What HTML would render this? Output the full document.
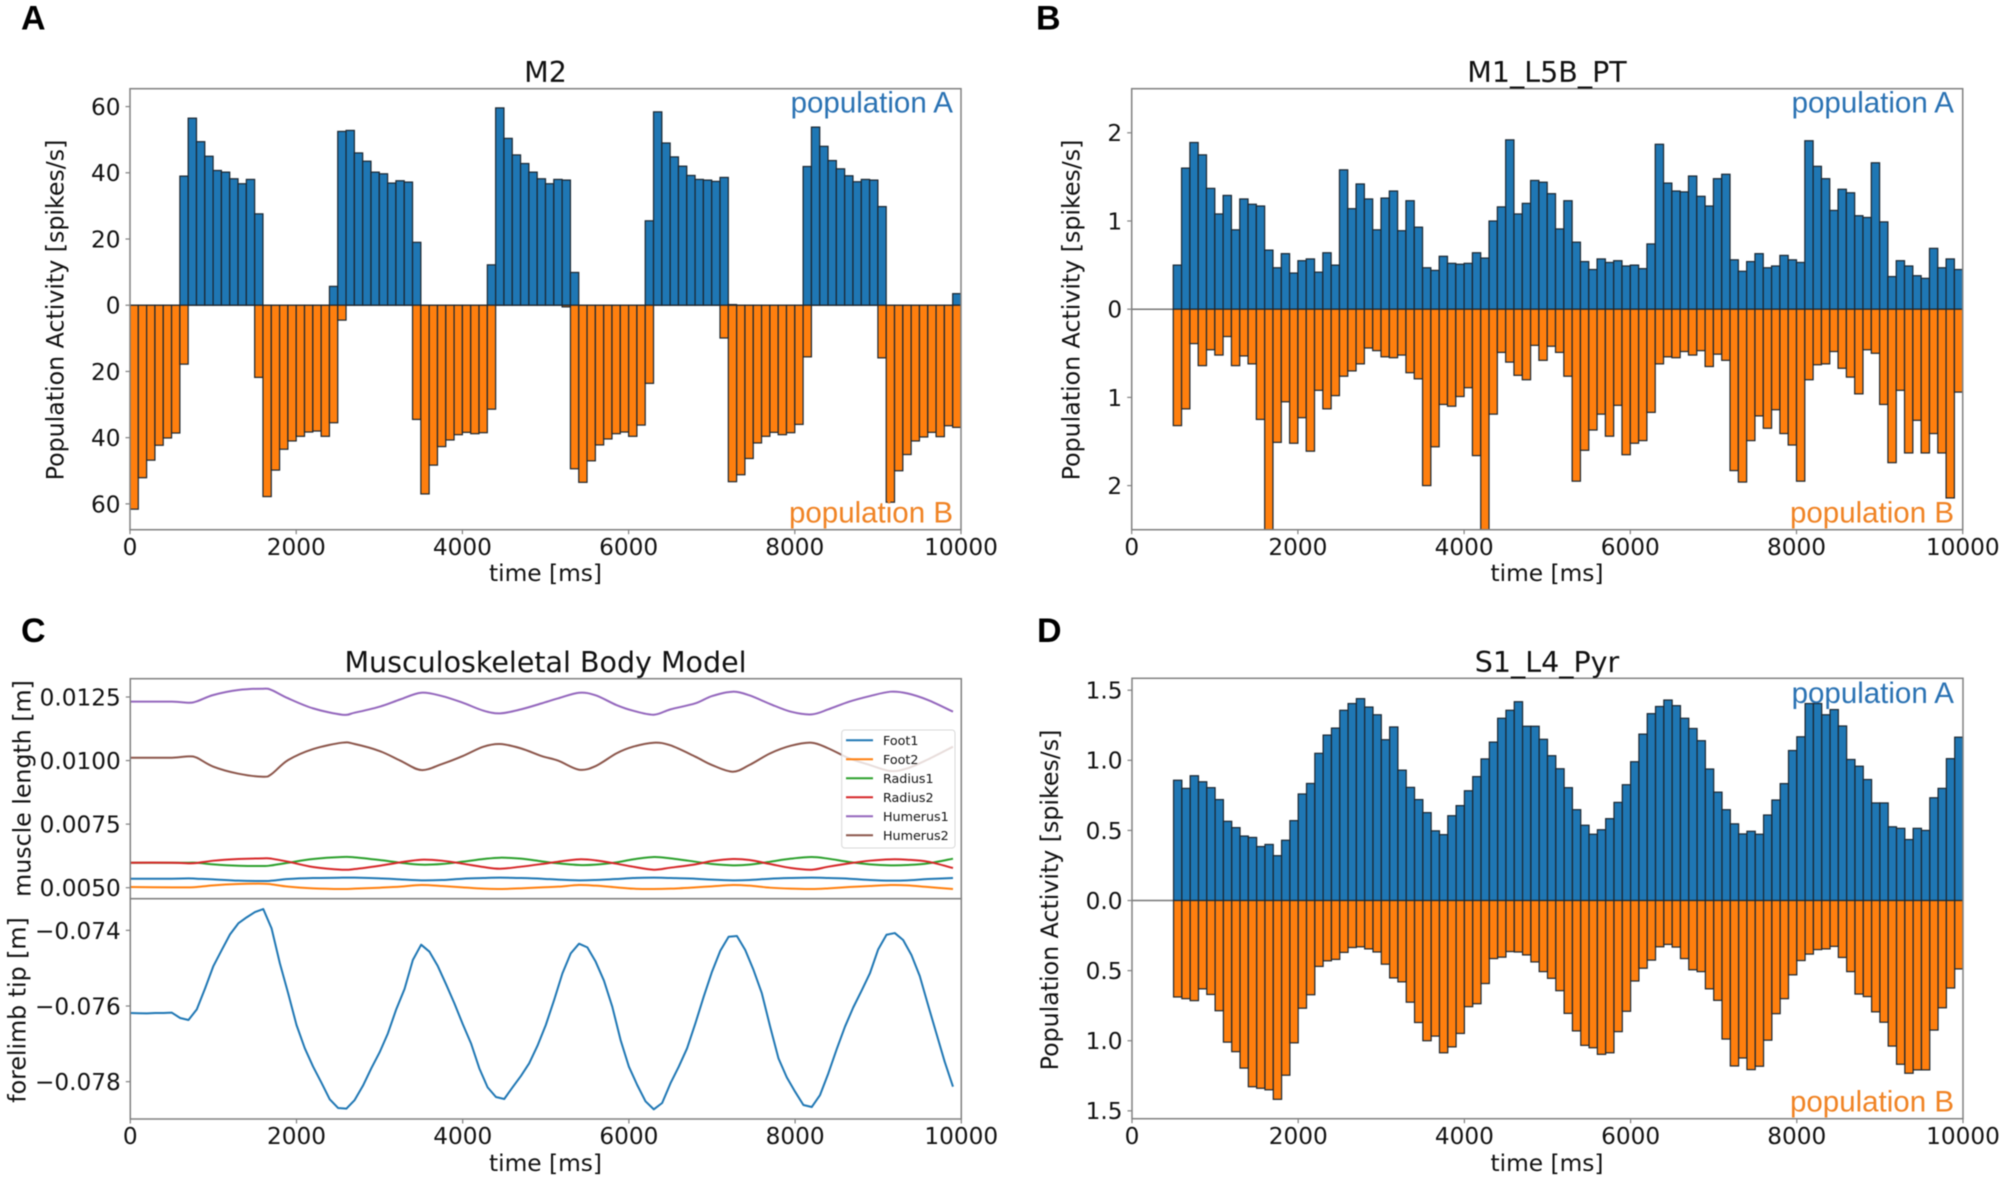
<!DOCTYPE html>
<html lang="en">
<head>
<meta charset="utf-8">
<title>Population activity and musculoskeletal body model</title>
<style>
  html, body { margin: 0; padding: 0; background: #fff; }
  body { width: 2008px; height: 1183px; overflow: hidden; }
  svg { display: block; filter: blur(0.4px); }
  text { font-family: "DejaVu Sans", "Liberation Sans", sans-serif; fill: #111; }
  .tick { font-size: 23.2px; }
  .label { font-size: 23.7px; }
  .xlabel { font-size: 23.3px; }
  .title { font-size: 28.5px; }
  .letter { font-family: "Liberation Sans", sans-serif; font-weight: bold; font-size: 34px; fill: #000; }
  .pop { font-family: "Liberation Sans", sans-serif; font-size: 29.5px; text-anchor: end; }
  .legend-text { font-size: 12.7px; }
  .frame { fill: none; stroke: #808080; stroke-width: 1.5; }
</style>
</head>
<body>
<svg id="figure" xmlns="http://www.w3.org/2000/svg" width="2008" height="1183" viewBox="0 0 2008 1183">
  <defs>
    <clipPath id="clip-a"><rect x="130" y="88.7" width="831" height="441"/></clipPath>
    <clipPath id="clip-b"><rect x="1131.7" y="88.7" width="831" height="441"/></clipPath>
    <clipPath id="clip-d"><rect x="1132" y="678.3" width="831" height="440.4"/></clipPath>
  </defs>

  <text class="letter" x="21" y="29.5">A</text>
  <text class="letter" x="1036" y="29.5">B</text>
  <text class="letter" x="21" y="642">C</text>
  <text class="letter" x="1037" y="642">D</text>

  <!-- Panel A -->
  <g>
    <g id="marks-a" clip-path="url(#clip-a)"></g>
    <rect class="frame" x="130" y="88.7" width="831" height="441"/>
    <g id="ticks-a"></g>
    <text class="title" x="545.5" y="82" text-anchor="middle">M2</text>
    <text class="xlabel" x="545.5" y="581" text-anchor="middle">time [ms]</text>
    <text class="label" transform="translate(63.5 310) rotate(-90)" text-anchor="middle">Population Activity [spikes/s]</text>
    <text class="pop" x="953" y="112.5" style="fill:#2a72b3">population A</text>
    <text class="pop" x="953" y="522.5" style="fill:#f08324">population B</text>
  </g>

  <!-- Panel B -->
  <g>
    <line x1="1131.7" x2="1173.3" y1="309.2" y2="309.2" stroke="#777" stroke-width="1.5"/>
    <g id="marks-b" clip-path="url(#clip-b)"></g>
    <rect class="frame" x="1131.7" y="88.7" width="831" height="441"/>
    <g id="ticks-b"></g>
    <text class="title" x="1547" y="82" text-anchor="middle">M1_L5B_PT</text>
    <text class="xlabel" x="1547" y="581" text-anchor="middle">time [ms]</text>
    <text class="label" transform="translate(1079.5 310) rotate(-90)" text-anchor="middle">Population Activity [spikes/s]</text>
    <text class="pop" x="1954" y="112.5" style="fill:#2a72b3">population A</text>
    <text class="pop" x="1954" y="522.5" style="fill:#f08324">population B</text>
  </g>

  <!-- Panel C -->
  <g>
    <g id="marks-c-top"></g>
    <g id="marks-c-bottom"></g>
    <rect class="frame" x="130.3" y="678.7" width="831" height="220"/>
    <rect class="frame" x="130.3" y="898.7" width="831" height="220.3"/>
    <g id="ticks-c"></g>
    <text class="title" x="545.5" y="672" text-anchor="middle">Musculoskeletal Body Model</text>
    <text class="xlabel" x="545.5" y="1171" text-anchor="middle">time [ms]</text>
    <text class="label" transform="translate(30.5 788.5) rotate(-90)" text-anchor="middle">muscle length [m]</text>
    <text class="label" transform="translate(25.5 1010) rotate(-90)" text-anchor="middle">forelimb tip [m]</text>
    <g>
      <rect x="841.7" y="730" width="113.3" height="118" rx="3" fill="#fff" fill-opacity="0.8" stroke="#d8d8d8" stroke-width="1"/>
      <line x1="846" x2="873" y1="740.3" y2="740.3" stroke="#1f77b4" stroke-width="2"/>
      <text class="legend-text" x="883" y="744.8">Foot1</text>
      <line x1="846" x2="873" y1="759.3" y2="759.3" stroke="#ff7f0e" stroke-width="2"/>
      <text class="legend-text" x="883" y="763.8">Foot2</text>
      <line x1="846" x2="873" y1="778.3" y2="778.3" stroke="#2ca02c" stroke-width="2"/>
      <text class="legend-text" x="883" y="782.8">Radius1</text>
      <line x1="846" x2="873" y1="797.3" y2="797.3" stroke="#d62728" stroke-width="2"/>
      <text class="legend-text" x="883" y="801.8">Radius2</text>
      <line x1="846" x2="873" y1="816.3" y2="816.3" stroke="#9467bd" stroke-width="2"/>
      <text class="legend-text" x="883" y="820.8">Humerus1</text>
      <line x1="846" x2="873" y1="835.3" y2="835.3" stroke="#8c564b" stroke-width="2"/>
      <text class="legend-text" x="883" y="839.8">Humerus2</text>
    </g>
  </g>

  <!-- Panel D -->
  <g>
    <line x1="1132" x2="1173.5" y1="900.5" y2="900.5" stroke="#777" stroke-width="1.5"/>
    <g id="marks-d" clip-path="url(#clip-d)"></g>
    <rect class="frame" x="1132" y="678.3" width="831" height="440.4"/>
    <g id="ticks-d"></g>
    <text class="title" x="1547" y="672" text-anchor="middle">S1_L4_Pyr</text>
    <text class="xlabel" x="1547" y="1171" text-anchor="middle">time [ms]</text>
    <text class="label" transform="translate(1058 900) rotate(-90)" text-anchor="middle">Population Activity [spikes/s]</text>
    <text class="pop" x="1954" y="703" style="fill:#2a72b3">population A</text>
    <text class="pop" x="1954" y="1111.5" style="fill:#f08324">population B</text>
  </g>
</svg>

<script>
/* ---------- shared axis data ---------- */
const binWidthMs = [100];
const xTickValues = [0, 2000, 4000, 6000, 8000, 10000];

/* ---------- Panel A: M2 (bins start at 0 ms) ---------- */
const m2StartMs = [0];
const m2PopulationA = [
  0,0,0,0,0,0,39,56.5,49.4,45,
  40.7,40.2,38.2,36.7,38,27.6,0,0,0,0,
  0,0,0,0,5.7,52.5,52.8,46,43.5,40.2,
  39.7,36.9,37.6,37.2,19,0,0,0,0,0,
  0,0,0,12.2,59.6,50.4,45.4,42.8,40.2,38.2,
  36.7,38,37.8,9.9,0,0,0,0,0,0,
  0,0,25.5,58.4,49,44.8,42,39.2,38,37.8,
  37.4,38.6,0.2,0,0,0,0,0,0,0,
  0,41.9,53.8,48,43.7,41.2,39.1,37.3,38,37.8,
  29.8,0,0,0,0,0,0,0,0,3.5
];
const m2PopulationB = [
  61.6,52.1,46.8,42.3,40.1,38.6,17.8,0,0,0,
  0,0,0,0,0,21.8,57.8,49.8,43.5,41,
  39.6,38.3,38,39.6,35.5,4.5,0,0,0,0,
  0,0,0,0,34.5,57,48.3,42.7,40.7,39.1,
  38.4,38.8,38.5,31.4,0,0,0,0,0,0,
  0,0,0.5,49.4,53.5,47,42.2,40.4,38.8,38.3,
  39.6,36.2,23.6,0,0,0,0,0,0,0,
  0,9.9,53.3,51.2,46.3,41.6,39.6,38.4,39.1,38.5,
  36,15.6,0,0,0,0,0,0,0,0,
  15.9,59.5,50,45.1,41,39.8,38.4,39.7,36.4,36.9
];
const m2YTicks = [60, 40, 20, 0, -20, -40, -60];

/* ---------- Panel B: M1_L5B_PT (bins start at 500 ms) ---------- */
const m1StartMs = [500];
const m1PopulationA = [
  0.5,1.6,1.89,1.75,1.37,
  1.08,1.29,0.9,1.25,1.19,1.17,0.67,0.47,0.63,0.41,
  0.55,0.57,0.42,0.64,0.5,1.58,1.14,1.42,1.25,0.9,
  1.26,1.34,0.89,1.23,0.93,0.47,0.44,0.6,0.52,0.51,
  0.52,0.64,0.58,1,1.16,1.92,1.08,1.2,1.46,1.44,
  1.31,0.91,1.23,0.76,0.54,0.45,0.57,0.53,0.55,0.49,
  0.5,0.46,0.74,1.87,1.43,1.34,1.33,1.51,1.28,1.17,
  1.48,1.53,0.56,0.43,0.54,0.63,0.47,0.49,0.61,0.56,
  0.53,1.91,1.62,1.48,1.12,1.36,1.32,1.06,1.04,1.66,
  0.99,0.37,0.55,0.49,0.38,0.35,0.69,0.47,0.57,0.45
];
const m1PopulationB = [
  1.32,1.13,0.39,0.64,0.46,
  0.52,0.31,0.64,0.53,0.62,1.25,2.56,1.51,1.05,1.52,
  1.23,1.61,0.92,1.13,0.98,0.76,0.7,0.62,0.44,0.47,
  0.54,0.55,0.52,0.72,0.79,2,1.56,1.08,1.1,0.99,
  0.89,1.66,2.6,1.19,0.49,0.6,0.75,0.8,0.41,0.58,
  0.42,0.49,0.76,1.95,1.6,1.37,1.19,1.44,1.09,1.65,
  1.52,1.49,1.17,0.62,0.54,0.55,0.48,0.52,0.47,0.65,
  0.51,0.58,1.83,1.96,1.49,1.21,1.35,1.14,1.41,1.54,
  1.95,0.8,0.63,0.62,0.48,0.67,0.77,0.96,0.46,0.5,
  1.08,1.74,0.92,1.63,1.26,1.63,1.41,1.63,2.14,0.94
];
const m1YTicks = [2, 1, 0, -1, -2];

/* ---------- Panel D: S1_L4_Pyr (bins start at 500 ms) ---------- */
const s1StartMs = [500];
const s1PopulationA = [
  0.858,0.8,0.89,0.847,0.805,
  0.72,0.565,0.52,0.46,0.45,0.385,0.4,0.32,0.43,0.57,
  0.76,0.835,1.05,1.18,1.23,1.357,1.405,1.44,1.38,1.325,
  1.147,1.238,0.93,0.807,0.72,0.627,0.497,0.47,0.605,0.677,
  0.783,0.884,1.01,1.13,1.3,1.357,1.418,1.243,1.243,1.15,
  1.033,0.94,0.805,0.648,0.537,0.473,0.505,0.584,0.7,0.826,
  0.99,1.187,1.333,1.384,1.43,1.39,1.3,1.227,1.14,0.938,
  0.773,0.648,0.547,0.475,0.494,0.473,0.61,0.717,0.834,1.07,
  1.168,1.405,1.405,1.325,1.362,1.245,1.006,0.958,0.863,0.696,
  0.696,0.526,0.515,0.435,0.515,0.5,0.733,0.8,1.012,1.165
];
const s1PopulationB = [
  0.688,0.7,0.714,0.63,0.67,
  0.786,1.01,1.078,1.195,1.328,1.339,1.35,1.418,1.246,1.015,
  0.768,0.672,0.47,0.43,0.42,0.37,0.335,0.33,0.345,0.367,
  0.454,0.552,0.58,0.725,0.87,1,0.967,1.086,1.044,0.948,
  0.757,0.736,0.592,0.414,0.404,0.364,0.367,0.388,0.438,0.507,
  0.555,0.643,0.805,0.93,1.033,1.05,1.097,1.086,0.935,0.79,
  0.574,0.483,0.425,0.33,0.313,0.332,0.414,0.494,0.507,0.63,
  0.712,0.988,1.18,1.123,1.206,1.182,0.996,0.807,0.7,0.53,
  0.428,0.382,0.35,0.345,0.327,0.406,0.507,0.667,0.685,0.794,
  0.868,1.038,1.168,1.232,1.208,1.208,0.924,0.765,0.624,0.488
];
const s1YTicks = [1.5, 1, 0.5, 0, -0.5, -1, -1.5];

/* ---------- Panel C: muscle lengths and forelimb tip ---------- */
const muscleTimes = [
  0,500,700,800,1000,1300,1600,1700,1900,2200,
  2550,2700,3000,3250,3500,3750,4000,4250,4450,4700,
  4950,5150,5400,5600,5850,6050,6300,6500,6800,7000,
  7250,7450,7700,7950,8200,8400,8650,8900,9150,9350,
  9600,9900
];
const foot1 = [
  .005354,.005354,.005367,.005354,.005328,.005276,.005263,.005276,.005341,.00538,
  .005394,.005394,.005367,.005328,.005289,.005302,.005354,.00538,.005394,.00538,
  .005354,.005315,.005289,.005302,.005341,.00538,.005394,.00538,.005354,.005315,
  .005289,.005302,.005354,.00538,.005394,.00538,.005354,.005302,.005276,.005289,
  .005341,.00538
];
const foot2 = [
  .005026,.005013,.005013,.005026,.005092,.005144,.005157,.005131,.00504,.004974,
  .004948,.004961,.005,.00504,.005105,.005066,.005013,.004961,.004948,.004974,
  .005013,.00504,.005105,.005079,.005013,.004961,.004948,.004961,.005013,.005053,
  .005105,.005079,.005,.004961,.004948,.004974,.005026,.005066,.005105,.005092,
  .005026,.004948
];
const radius1 = [
  .005983,.005983,.005983,.005983,.005918,.005865,.005852,.005879,.005983,.006128,
  .006206,.006193,.006088,.005983,.005905,.005931,.006023,.006128,.00618,.006141,
  .006036,.005957,.005892,.005905,.005996,.006115,.006206,.006154,.006023,.005931,
  .005879,.005905,.006023,.006141,.006206,.006141,.00601,.005918,.005879,.005892,
  .005957,.006141
];
const radius2 = [
  .005983,.005983,.005957,.00597,.006062,.006128,.006154,.006141,.006023,.005813,
  .005708,.005734,.005865,.005996,.006101,.006062,.005944,.005813,.005747,.005826,
  .005931,.006023,.006115,.006075,.005944,.005826,.005708,.005787,.005918,.006049,
  .006128,.006088,.005931,.005774,.005708,.005826,.005957,.006062,.006115,.006101,
  .006023,.005774
];
const humerus1 = [
  .012316,.012316,.012276,.012329,.012578,.012774,.012827,.012774,.012447,.012053,
  .011804,.011883,.012119,.012407,.012669,.012538,.012276,.011962,.011857,.012014,
  .01225,.012447,.012669,.012565,.012184,.011962,.011804,.012014,.01225,.012538,
  .012709,.012565,.012224,.011922,.011817,.012014,.012316,.012538,.012709,.012643,
  .012381,.011922
];
const humerus2 = [
  .010113,.010113,.010165,.010113,.009759,.009484,.009366,.009471,.010021,.010454,
  .010703,.010651,.010375,.009995,.009628,.009864,.010179,.010546,.010651,.01048,
  .010179,.009995,.009641,.009785,.010284,.010546,.010703,.010598,.010153,.009825,
  .009562,.009825,.010284,.010585,.010703,.01048,.010087,.009825,.009589,.009694,
  .010048,.010546
];
const muscleYTicks = [0.0125, 0.01, 0.0075, 0.005];
const muscleYTickLabels = ["0.0125", "0.0100", "0.0075", "0.0050"];

const forelimbStepMs = [100];
const forelimbTip = [
  -.076185,-.07619,-.076194,-.076185,-.076185,-.076176,-.076317,-.07637,-.076088,-.075533,
  -.074943,-.07452,-.074106,-.073815,-.073656,-.073516,-.073436,-.073947,-.074872,-.075665,
  -.076502,-.077119,-.077604,-.078027,-.078467,-.078696,-.078714,-.078485,-.078106,-.077648,
  -.077225,-.076723,-.076088,-.075551,-.074784,-.074379,-.074564,-.074943,-.075427,-.07593,
  -.076476,-.076987,-.077648,-.07815,-.078406,-.078458,-.07815,-.077851,-.077516,-.077049,
  -.076502,-.075842,-.075137,-.074608,-.074353,-.07445,-.074828,-.075331,-.076018,-.076899,
  -.077604,-.078088,-.07852,-.078732,-.078564,-.078044,-.077604,-.077119,-.076458,-.075753,
  -.075093,-.074538,-.074168,-.07415,-.07452,-.075049,-.075665,-.076547,-.077384,-.077886,
  -.078265,-.078617,-.07867,-.078353,-.07778,-.077146,-.076547,-.076036,-.075595,-.075137,
  -.074502,-.074115,-.074071,-.074256,-.074652,-.075207,-.075974,-.076723,-.077472,-.078132
];
const forelimbYTicks = [-0.074, -0.076, -0.078];
const forelimbYTickLabels = ["\u22120.074", "\u22120.076", "\u22120.078"];

/* ---------- drawing helpers ---------- */
const SVG_NS = "http://www.w3.org/2000/svg";

function makeScale(domain0, domain1, px0, px1) {
  return function (v) {
    return px0 + (v - domain0) / (domain1 - domain0) * (px1 - px0);
  };
}

function drawBars(group, values, start, width, x, y, sign, fill, name) {
  values.forEach(function (v, i) {
    const x0 = x(start + i * width);
    const x1 = x(start + (i + 1) * width);
    const y0 = y(0);
    const y1 = y(sign * v);
    const rect = document.createElementNS(SVG_NS, "rect");
    rect.setAttribute("x", x0);
    rect.setAttribute("width", x1 - x0);
    rect.setAttribute("y", Math.min(y0, y1));
    rect.setAttribute("height", Math.max(Math.abs(y1 - y0), 0.01));
    rect.setAttribute("fill", fill);
    rect.setAttribute("stroke", "#1b2630");
    rect.setAttribute("stroke-width", "1.2");
    
    
    group.appendChild(rect);
  });
}

function drawLine(group, xs, values, x, y, color, name) {
  const path = document.createElementNS(SVG_NS, "polyline");
  path.setAttribute("points", values.map(function (v, i) {
    return x(xs[i]).toFixed(2) + "," + y(v).toFixed(2);
  }).join(" "));
  path.setAttribute("fill", "none");
  path.setAttribute("stroke", color);
  path.setAttribute("stroke-width", "2");
  path.setAttribute("stroke-linejoin", "round");
  
  
  group.appendChild(path);
}

/* Smooth trace through every sampled muscle-length value (Catmull-Rom). */
function drawSmoothLine(group, xs, values, x, y, color, name) {
  const pts = values.map(function (v, i) { return [x(xs[i]), y(v)]; });
  let d = "M" + pts[0][0].toFixed(2) + " " + pts[0][1].toFixed(2);
  for (let i = 0; i < pts.length - 1; i++) {
    const p0 = pts[Math.max(i - 1, 0)];
    const p1 = pts[i];
    const p2 = pts[i + 1];
    const p3 = pts[Math.min(i + 2, pts.length - 1)];
    const c1x = p1[0] + (p2[0] - p0[0]) / 6;
    const c1y = p1[1] + (p2[1] - p0[1]) / 6;
    const c2x = p2[0] - (p3[0] - p1[0]) / 6;
    const c2y = p2[1] - (p3[1] - p1[1]) / 6;
    d += "C" + c1x.toFixed(2) + " " + c1y.toFixed(2) + " " + c2x.toFixed(2) + " " + c2y.toFixed(2) + " " + p2[0].toFixed(2) + " " + p2[1].toFixed(2);
  }
  const path = document.createElementNS(SVG_NS, "path");
  path.setAttribute("d", d);
  path.setAttribute("fill", "none");
  path.setAttribute("stroke", color);
  path.setAttribute("stroke-width", "2");
  
  
  group.appendChild(path);
}

function drawXTicks(group, x, bottom, baseline) {
  xTickValues.forEach(function (v) {
    const mark = document.createElementNS(SVG_NS, "line");
    mark.setAttribute("x1", x(v));
    mark.setAttribute("x2", x(v));
    mark.setAttribute("y1", bottom);
    mark.setAttribute("y2", bottom + 4.5);
    mark.setAttribute("stroke", "#808080");
    mark.setAttribute("stroke-width", "1.2");
    
    
    group.appendChild(mark);
    const label = document.createElementNS(SVG_NS, "text");
    label.setAttribute("class", "tick");
    label.setAttribute("x", x(v));
    label.setAttribute("y", baseline);
    label.setAttribute("text-anchor", "middle");
    
    
    label.textContent = String(v);
    group.appendChild(label);
  });
}

function drawYTicks(group, ticks, labels, y, left) {
  ticks.forEach(function (v, i) {
    const mark = document.createElementNS(SVG_NS, "line");
    mark.setAttribute("x1", left - 4.5);
    mark.setAttribute("x2", left);
    mark.setAttribute("y1", y(v));
    mark.setAttribute("y2", y(v));
    mark.setAttribute("stroke", "#808080");
    mark.setAttribute("stroke-width", "1.2");
    
    
    group.appendChild(mark);
    const label = document.createElementNS(SVG_NS, "text");
    label.setAttribute("class", "tick");
    label.setAttribute("x", left - 9.5);
    label.setAttribute("y", y(v) + 8.4);
    label.setAttribute("text-anchor", "end");
    
    
    label.textContent = labels[i];
    group.appendChild(label);
  });
}

/* ---------- panel A ---------- */
(function () {
  const x = makeScale(0, 10000, 130, 961);
  const y = makeScale(65.4, -67.8, 88.7, 529.7);
  const g = document.getElementById("marks-a");
  const t = document.getElementById("ticks-a");
  drawBars(g, m2PopulationA, m2StartMs[0], binWidthMs[0], x, y, 1, "#1f77b4", "population-a-bar");
  drawBars(g, m2PopulationB, m2StartMs[0], binWidthMs[0], x, y, -1, "#ff7f0e", "population-b-bar");
  drawXTicks(t, x, 529.7, 555);
  drawYTicks(t, m2YTicks, m2YTicks.map(function (v) { return String(Math.abs(v)); }), y, 130);
})();

/* ---------- panel B ---------- */
(function () {
  const x = makeScale(0, 10000, 1131.7, 1962.7);
  const y = makeScale(2.5, -2.5, 88.7, 529.7);
  const g = document.getElementById("marks-b");
  const t = document.getElementById("ticks-b");
  drawBars(g, m1PopulationA, m1StartMs[0], binWidthMs[0], x, y, 1, "#1f77b4", "population-a-bar");
  drawBars(g, m1PopulationB, m1StartMs[0], binWidthMs[0], x, y, -1, "#ff7f0e", "population-b-bar");
  drawXTicks(t, x, 529.7, 555);
  drawYTicks(t, m1YTicks, m1YTicks.map(function (v) { return String(Math.abs(v)); }), y, 1131.7);
})();

/* ---------- panel C ---------- */
(function () {
  const x = makeScale(0, 10000, 130.3, 961.3);
  const yTop = makeScale(0.01322, 0.004567, 678.7, 898.7);
  const yBottom = makeScale(-0.073163, -0.078987, 898.7, 1119);
  const top = document.getElementById("marks-c-top");
  const bottom = document.getElementById("marks-c-bottom");
  const t = document.getElementById("ticks-c");
  drawSmoothLine(top, muscleTimes, foot1, x, yTop, "#1f77b4", "foot1-line");
  drawSmoothLine(top, muscleTimes, foot2, x, yTop, "#ff7f0e", "foot2-line");
  drawSmoothLine(top, muscleTimes, radius1, x, yTop, "#2ca02c", "radius1-line");
  drawSmoothLine(top, muscleTimes, radius2, x, yTop, "#d62728", "radius2-line");
  drawSmoothLine(top, muscleTimes, humerus1, x, yTop, "#9467bd", "humerus1-line");
  drawSmoothLine(top, muscleTimes, humerus2, x, yTop, "#8c564b", "humerus2-line");
  const forelimbTimes = forelimbTip.map(function (v, i) { return i * forelimbStepMs[0]; });
  drawLine(bottom, forelimbTimes, forelimbTip, x, yBottom, "#1f77b4", "forelimb-tip-trace");
  drawXTicks(t, x, 1119, 1144);
  drawYTicks(t, muscleYTicks, muscleYTickLabels, yTop, 130.3);
  drawYTicks(t, forelimbYTicks, forelimbYTickLabels, yBottom, 130.3);
})();

/* ---------- panel D ---------- */
(function () {
  const x = makeScale(0, 10000, 1132, 1963);
  const y = makeScale(1.585, -1.556, 678.3, 1118.7);
  const g = document.getElementById("marks-d");
  const t = document.getElementById("ticks-d");
  drawBars(g, s1PopulationA, s1StartMs[0], binWidthMs[0], x, y, 1, "#1f77b4", "population-a-bar");
  drawBars(g, s1PopulationB, s1StartMs[0], binWidthMs[0], x, y, -1, "#ff7f0e", "population-b-bar");
  drawXTicks(t, x, 1118.7, 1144);
  drawYTicks(t, s1YTicks, s1YTicks.map(function (v) { return Math.abs(v).toFixed(1); }), y, 1132);
})();
</script>
</body>
</html>
